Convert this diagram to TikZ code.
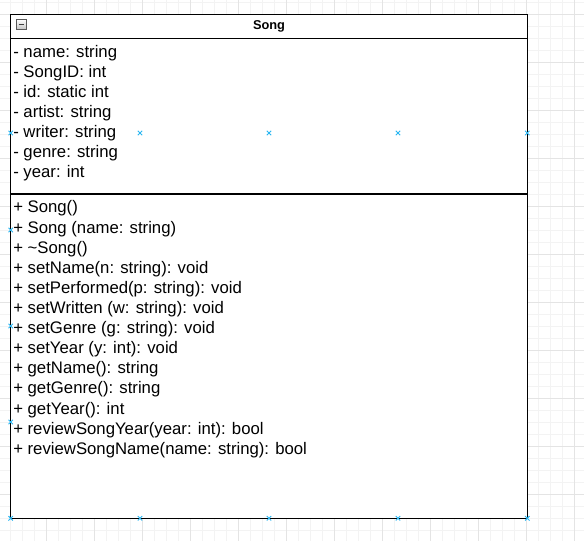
\documentclass[tikz,border=0pt]{standalone}
\usepackage{fontspec}
\setmainfont{Liberation Sans}
\definecolor{gridminor}{RGB}{243,243,243}
\definecolor{gridmajor}{RGB}{228,228,228}
\definecolor{pointcyan}{RGB}{41,182,242}
\tikzset{
  member/.style={anchor=base west, inner sep=0pt, font=\fontsize{12.55}{15}\selectfont},
  classline/.style={black, line width=1.1pt},
  cpoint/.style={pointcyan, line width=0.7pt},
}

\begin{document}
\begin{tikzpicture}[x=0.75pt,y=-0.75pt]

\useasboundingbox (0,0) rectangle (584,541);
\fill[white] (0,0) rectangle (584,541);

\foreach \i in {-1,...,48} \draw[gridminor, line width=0.75pt] (10.8+12*\i,0) -- (10.8+12*\i,541);
\foreach \i in {0,...,45} \draw[gridminor, line width=0.75pt] (0,2.7+12*\i) -- (584,2.7+12*\i);
\foreach \i in {0,...,12} \draw[gridmajor, line width=0.75pt] (-1.2+48*\i,0) -- (-1.2+48*\i,541);
\foreach \i in {0,...,11} \draw[gridmajor, line width=0.75pt] (0,14.7+48*\i) -- (584,14.7+48*\i);

\coordinate (nw) at (10.7,14.7);
\coordinate (se) at (527.3,518.3);
\fill[white] (nw) rectangle (se);
\draw[classline] (nw) rectangle (se);
\draw[classline] (10.7,38.3) -- (527.3,38.3);
\draw[classline] (10.7,193.8) -- (527.3,193.8);

\draw[top color=white, bottom color=gray!45, draw=gray!70!black, line width=0.5pt] (16.3,19.5) rectangle (26.3,29.3);
\draw[black!75, line width=1.2pt] (18.6,24.4) -- (24,24.4);

\node[font=\bfseries\fontsize{9.6}{11}\selectfont] (title) at (269,26.3) {Song};

\foreach \t [count=\i from 0] in {- name: string, - SongID: int, - id: static int, - artist: string, - writer: string, - genre: string, - year: int}
  \node[member] (attr\i) at (13,57.3+20.1*\i) {\t};

\foreach \t [count=\i from 0] in {+ Song(), + Song (name: string), + \textasciitilde Song(), + setName(n: string): void, + setPerformed(p: string): void, + setWritten (w: string): void, + setGenre (g: string): void, + setYear (y: int): void, + getName(): string, + getGenre(): string, + getYear(): int, + reviewSongYear(year: int): bool, + reviewSongName(name: string): bool}
  \node[member] (op\i) at (13,213+20.1*\i) {\t};

\foreach \x/\y in {10.7/133,140/133,269/133,398/133,527.3/133,10.7/230,10.7/326,10.7/422,10.7/518.3,140/518.3,269/518.3,398/518.3,527.3/518.3}
  \draw[cpoint] (\x-2.2,\y-2.2) -- (\x+2.2,\y+2.2) (\x-2.2,\y+2.2) -- (\x+2.2,\y-2.2);

\end{tikzpicture}
\end{document}
